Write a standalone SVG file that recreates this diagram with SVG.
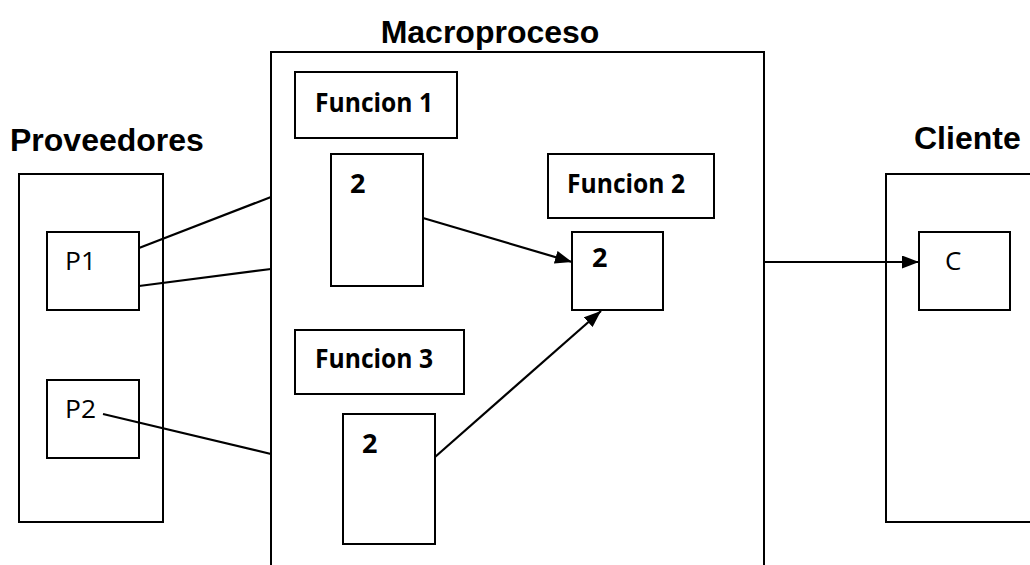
<svg xmlns="http://www.w3.org/2000/svg" width="1030" height="565" viewBox="0 0 1030 565">
  <style>
    .box { fill: #ffffff; stroke: #000000; stroke-width: 2; }
    .title { font-family: "Liberation Sans", Arial, sans-serif; font-weight: 700; font-size: 32px; fill: #000; }
    .label { font-family: "Open Sans", "Noto Sans", sans-serif; font-weight: 700; font-size: 27px; fill: #000; }
    .plain { font-family: "Open Sans", "Noto Sans", sans-serif; font-weight: 400; font-size: 26px; fill: #000; }
    .link { fill: none; stroke: #000000; stroke-width: 2.2; }
  </style>
  <defs>
    <marker id="head" viewBox="0 0 17 13" refX="17" refY="6.5" markerWidth="17" markerHeight="13" markerUnits="userSpaceOnUse" orient="auto">
      <path d="M0,0 L17,6.5 L0,13 Z" fill="#000"/>
    </marker>
  </defs>

  <rect width="1030" height="565" fill="#ffffff"/>

  <!-- Suppliers -->
  <g id="proveedores">
    <text class="title" x="10" y="151">Proveedores</text>
    <rect class="box" x="19" y="174" width="144" height="348"/>
  </g>
  <g id="p1">
    <rect class="box" x="47" y="232" width="92" height="78"/>
    <text class="plain" x="65" y="270" textLength="31" lengthAdjust="spacingAndGlyphs">P1</text>
  </g>
  <g id="p2">
    <rect class="box" x="47" y="380" width="92" height="78"/>
    <text class="plain" x="65" y="418" textLength="31" lengthAdjust="spacingAndGlyphs">P2</text>
  </g>

  <!-- Macro process container -->
  <g id="macroproceso">
    <text class="title" x="490" y="43" text-anchor="middle">Macroproceso</text>
    <rect class="box" x="271" y="52" width="493" height="540"/>
  </g>
  <g id="funcion1">
    <rect class="box" x="295" y="72" width="162" height="66"/>
    <text class="label" x="315" y="112" textLength="118" lengthAdjust="spacingAndGlyphs">Funcion 1</text>
  </g>
  <g id="f1-step">
    <rect class="box" x="331" y="154" width="92" height="132"/>
    <text class="label" x="350" y="193">2</text>
  </g>
  <g id="funcion2">
    <rect class="box" x="548" y="154" width="166" height="64"/>
    <text class="label" x="567" y="193" textLength="118" lengthAdjust="spacingAndGlyphs">Funcion 2</text>
  </g>
  <g id="f2-step">
    <rect class="box" x="572" y="232" width="91" height="78"/>
    <text class="label" x="592" y="267">2</text>
  </g>
  <g id="funcion3">
    <rect class="box" x="295" y="330" width="169" height="64"/>
    <text class="label" x="315" y="368" textLength="118" lengthAdjust="spacingAndGlyphs">Funcion 3</text>
  </g>
  <g id="f3-step">
    <rect class="box" x="343" y="414" width="92" height="130"/>
    <text class="label" x="362" y="453">2</text>
  </g>

  <!-- Customer -->
  <g id="cliente">
    <text class="title" x="914" y="149">Cliente</text>
    <rect class="box" x="886" y="174" width="160" height="348"/>
  </g>
  <g id="c">
    <rect class="box" x="919" y="232" width="91" height="78"/>
    <text class="plain" x="945" y="270">C</text>
  </g>

  <!-- Connectors -->
  <g id="connectors">
    <line class="link" x1="139" y1="248" x2="271" y2="197"/>
    <line class="link" x1="139" y1="286" x2="271" y2="269"/>
    <line class="link" x1="103" y1="414" x2="271" y2="454"/>
    <line class="link" x1="423" y1="218" x2="572" y2="262" marker-end="url(#head)"/>
    <line class="link" x1="435" y1="457" x2="601" y2="311" marker-end="url(#head)"/>
    <line class="link" x1="764" y1="262" x2="919" y2="262" marker-end="url(#head)"/>
  </g>
</svg>
